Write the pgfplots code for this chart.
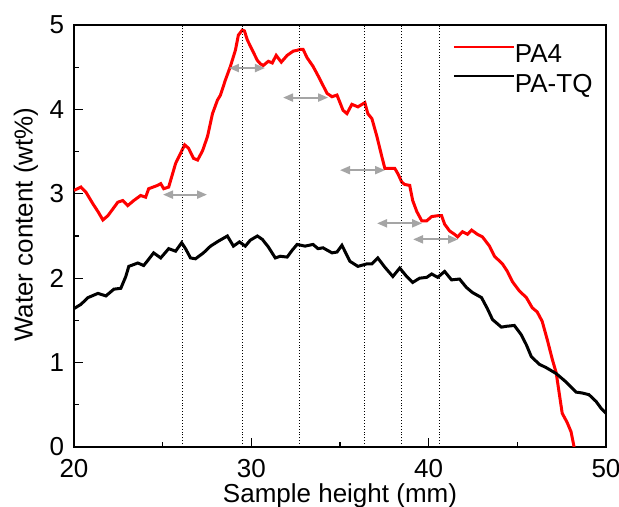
\documentclass[border=0pt]{standalone}
\usepackage{fontspec}
\setmainfont{Liberation Sans}
\usepackage{pgfplots}
\pgfplotsset{compat=1.18}
\usetikzlibrary{arrows.meta}
\definecolor{arrgray}{RGB}{165,165,165}
\definecolor{pared}{RGB}{255,0,0}
\begin{document}
\begin{tikzpicture}
\begin{axis}[
  name=ax,
  width=532pt, height=422pt, scale only axis,
  xmin=20, xmax=50, ymin=0, ymax=5,
  xtick={20,30,40,50}, ytick={0,1,2,3,4,5},
  minor x tick num=1, minor y tick num=1,
  tick align=inside, xtick pos=bottom, ytick pos=left,
  major tick length=9pt, minor tick length=5pt,
  axis line style={line width=1.3pt},
  every tick/.style={black, line width=1.3pt},
  font=\fontsize{26}{31}\selectfont,
  /pgf/number format/assume math mode=true,
  xticklabel style={inner sep=0pt, yshift=-12.5pt},
  yticklabel style={inner sep=0pt, xshift=-9.7pt},
  xlabel={Sample height (mm)},
  ylabel={Water content (wt\%)},
  xlabel style={at={(axis description cs:0.5,0)}, anchor=north, yshift=-36pt, inner sep=0pt},
  ylabel style={at={(axis description cs:-0.0902,0.527)}, anchor=center, inner sep=0pt},
  legend style={draw=none, fill=none, at={(axis description cs:0.712,0.953)}, anchor=north west,
    inner sep=0pt, row sep=10pt, nodes={inner sep=0pt}, font=\fontsize{26}{31}\selectfont,
    /tikz/every even column/.append style={column sep=7pt}},
  legend cell align=left,
  legend image code/.code={\draw[#1, line width=2pt] (0pt,8pt) -- (60pt,8pt);},
]
\addplot[pared, line width=3pt] table {
x y
20.00 3.04
20.39 3.08
20.67 3.02
21.07 2.88
21.35 2.79
21.63 2.69
21.91 2.74
22.19 2.82
22.47 2.90
22.75 2.92
23.03 2.86
23.37 2.92
23.76 2.98
24.04 2.96
24.21 3.06
24.72 3.10
24.89 3.12
25.06 3.06
25.34 3.08
25.73 3.36
26.01 3.48
26.24 3.58
26.46 3.54
26.74 3.42
26.97 3.40
27.25 3.51
27.53 3.68
27.81 3.95
28.09 4.11
28.26 4.17
28.54 4.35
28.82 4.51
29.10 4.70
29.27 4.88
29.49 4.94
29.61 4.93
29.78 4.82
30.06 4.70
30.34 4.58
30.51 4.54
30.67 4.52
30.96 4.57
31.18 4.55
31.40 4.64
31.69 4.56
32.02 4.64
32.36 4.69
32.58 4.70
32.75 4.71
32.92 4.71
33.15 4.61
33.48 4.51
33.76 4.40
34.27 4.19
34.55 4.15
34.83 4.17
35.17 3.99
35.39 3.95
35.67 4.06
36.01 4.03
36.40 4.08
36.57 3.95
36.80 3.89
37.08 3.68
37.36 3.44
37.53 3.30
38.09 3.30
38.26 3.24
38.48 3.14
38.65 3.11
38.93 3.10
39.10 2.92
39.33 2.79
39.61 2.68
39.89 2.68
40.17 2.73
40.51 2.74
40.73 2.74
40.90 2.64
41.18 2.56
41.46 2.52
41.63 2.49
41.91 2.55
42.19 2.52
42.42 2.57
42.75 2.52
43.03 2.49
43.43 2.38
43.71 2.26
44.16 2.17
44.44 2.08
44.72 1.96
45.11 1.85
45.51 1.77
45.84 1.65
46.12 1.60
46.40 1.49
46.69 1.27
46.97 1.04
47.19 0.88
47.36 0.64
47.53 0.40
47.81 0.29
48.03 0.18
48.20 0.00
};
\addlegendentry{PA4}
\addplot[black, line width=3pt] table {
x y
20.00 1.64
20.39 1.69
20.79 1.77
21.35 1.82
21.80 1.79
22.25 1.87
22.64 1.88
22.92 2.02
23.09 2.14
23.60 2.18
23.93 2.15
24.16 2.21
24.49 2.30
24.89 2.24
25.34 2.35
25.73 2.32
26.07 2.42
26.29 2.35
26.57 2.24
26.85 2.23
27.30 2.30
27.70 2.38
28.15 2.44
28.65 2.50
28.99 2.38
29.33 2.43
29.66 2.38
29.94 2.45
30.34 2.50
30.62 2.46
30.96 2.37
31.35 2.24
31.63 2.26
32.02 2.25
32.30 2.33
32.58 2.40
33.03 2.38
33.48 2.40
33.76 2.35
34.04 2.36
34.55 2.30
34.83 2.31
35.11 2.39
35.56 2.20
36.01 2.14
36.52 2.17
36.80 2.17
37.13 2.24
37.53 2.13
37.98 2.02
38.37 2.12
38.76 2.02
39.10 1.95
39.49 2.00
39.89 2.01
40.17 2.05
40.51 2.01
40.90 2.08
41.29 1.98
41.74 1.99
42.13 1.89
42.47 1.83
42.98 1.77
43.31 1.64
43.60 1.51
44.10 1.42
44.38 1.43
44.83 1.44
45.22 1.33
45.51 1.21
45.79 1.07
46.24 0.98
46.63 0.94
47.19 0.87
47.75 0.77
48.31 0.65
48.65 0.64
49.04 0.62
49.44 0.54
49.72 0.46
50.00 0.40
};
\addlegendentry{PA-TQ}
% dotted guide lines
\addplot[forget plot, black, line width=0.9pt, dotted] coordinates {(26.13,0) (26.13,5)};
\addplot[forget plot, black, line width=0.9pt, dotted] coordinates {(29.50,0) (29.50,5)};
\addplot[forget plot, black, line width=0.9pt, dotted] coordinates {(32.69,0) (32.69,5)};
\addplot[forget plot, black, line width=0.9pt, dotted] coordinates {(36.36,0) (36.36,5)};
\addplot[forget plot, black, line width=0.9pt, dotted] coordinates {(38.45,0) (38.45,5)};
\addplot[forget plot, black, line width=0.9pt, dotted] coordinates {(40.60,0) (40.60,5)};
% gray double arrows
\pgfplotsset{garrow/.style={forget plot, arrgray, line width=2pt,
  {Triangle[length=10pt,width=8pt]}-{Triangle[length=10pt,width=8pt]}}}
\addplot[garrow] coordinates {(25.02,2.99) (27.50,2.99)};
\addplot[garrow] coordinates {(28.74,4.49) (30.77,4.49)};
\addplot[garrow] coordinates {(31.79,4.14) (34.33,4.14)};
\addplot[garrow] coordinates {(35.00,3.28) (37.54,3.28)};
\addplot[garrow] coordinates {(37.09,2.65) (39.63,2.65)};
\addplot[garrow] coordinates {(39.12,2.46) (41.66,2.46)};
\end{axis}
\pgfresetboundingbox
\path[use as bounding box] ([shift={(-74pt,-60pt)}]ax.south west) rectangle ([shift={(13pt,25pt)}]ax.north east);
\end{tikzpicture}
\end{document}
